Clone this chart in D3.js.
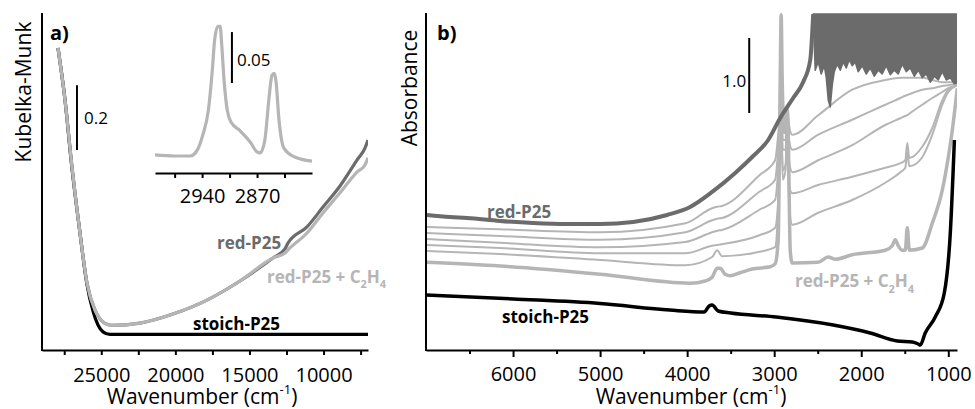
<!DOCTYPE html>
<html><head><meta charset="utf-8">
<script src="https://cdn.jsdelivr.net/npm/d3@7"></script>
<style>
body{margin:0;background:#fff}
svg{display:block}
text{font-family:"Open Sans",sans-serif}
</style>
</head><body>
<svg id="chart" width="975" height="409"></svg>
<script>
// ---------- Panel a (UV-vis, Kubelka-Munk) ----------
const aXTicks = [27500,25000,22500,20000,17500,15000,12500,10000,7500];
const aXLabels = [25000,20000,15000,10000];
const aStoichWn = [27920,27448,26996,26436,25984,25559,25221,24884,24411,22000,18000,14000,10000,7000];
const aStoichKM = [0.932,0.772,0.568,0.361,0.207,0.120,0.077,0.056,0.048,0.048,0.048,0.048,0.048,0.048];
const aRedWn = [27920,27448,26976,26436,25963,25423,25086,24749,24277,22387,20160,17866,15639,13412,12603,12400,11118,10038,8889,7744,7204,7000];
const aRedKM = [0.932,0.772,0.565,0.361,0.207,0.123,0.096,0.082,0.076,0.083,0.111,0.154,0.213,0.284,0.312,0.330,0.380,0.441,0.506,0.586,0.623,0.648];
const aRedC2H4KM = [0.932,0.772,0.565,0.361,0.207,0.123,0.096,0.082,0.076,0.083,0.111,0.154,0.213,0.284,0.299,0.309,0.361,0.423,0.485,0.549,0.571,0.593];
const aScaleBar = {wn: 26640, from: 0.617, size: 0.2, label: "0.2"};

// ---------- Inset (C-H stretch region) ----------
const insetTicks = [2975,2940,2905,2870,2835];
const insetLabels = [2940,2870];
const insetWn = [3000,2975,2955,2946,2939,2932,2927,2924,2920,2917,2915,2912,2908,2903,2892,2879,2870,2866,2860,2855,2851,2848,2846,2842,2836,2822,2800];
const insetKM = [0.002,0.001,0.001,0.007,0.022,0.046,0.085,0.115,0.128,0.128,0.110,0.075,0.046,0.034,0.026,0.015,0.005,0.004,0.017,0.056,0.080,0.082,0.075,0.036,0.009,0.000,-0.004];
const insetScaleBar = {wn: 2902, from: 0.0725, size: 0.05, label: "0.05"};

// ---------- Panel b (IR absorbance) ----------
const bXTicks = [6500,6000,5500,5000,4500,4000,3500,3000,2500,2000,1500,1000];
const bXLabels = [6000,5000,4000,3000,2000,1000];
const bRedWn = [6989,6724,6529,6149,5770,5379,5000,4621,4230,3966,3713,3448,3253,3069,2931,2782,2667,2586,2552];
const bRedAbs = [1.80,1.773,1.76,1.72,1.693,1.68,1.68,1.707,1.80,1.907,2.107,2.36,2.573,2.80,3.093,3.36,3.573,3.867,4.48];
// saturated (detector-limited) part of red-P25: lower edge of the noise band
const bSatWn = [2552,2529,2494,2460,2425,2402,2379,2356,2333,2310,2276,2241,2207,2172,2138,2104,2069,2035,1989,1943,1897,1851,1805,1759,1713,1667,1621,1575,1529,1483,1437,1391,1345,1299,1253,1207,1161,1115,1069,1023,977,931,897];
const bSatLow = [4.48,3.73,3.84,3.68,3.79,3.63,3.33,3.24,3.53,3.71,3.81,3.73,3.84,3.76,3.87,3.79,3.84,3.71,3.79,3.68,3.76,3.65,3.73,3.68,3.79,3.67,3.73,3.68,3.81,3.71,3.76,3.65,3.73,3.63,3.68,3.57,3.65,3.60,3.71,3.60,3.63,3.55,3.56];
const bSatTop = 4.48;
const bStoichWn = [7000,6000,5000,4200,3805,3747,3713,3644,3500,2977,2322,1897,1586,1414,1345,1322,1265,1150,1046,977,930];
const bStoichAbs = [0.733,0.68,0.62,0.533,0.507,0.587,0.60,0.52,0.493,0.44,0.333,0.227,0.12,0.107,0.08,0.067,0.227,0.44,0.76,1.56,2.8];
const bThinWn = [6989,6149,5000,4020,3713,3655,3600,3170,2989,2954,2920,2900,2870,2850,2830,2793,2494,2104,1724,1550,1494,1471,1448,1299,1184,1069,1000,897];
const bC2H4Step1 = [1.64,1.61,1.57,1.69,1.89,1.91,1.92,2.33,2.53,2.87,3.27,3.00,3.00,3.23,3.00,2.87,3.13,3.47,3.60,3.63,3.63,3.63,3.63,3.63,3.60,3.57,3.57,3.57];
const bC2H4Step2 = [1.56,1.52,1.47,1.57,1.73,1.75,1.76,2.11,2.27,2.67,3.20,2.80,2.80,3.20,2.80,2.67,2.87,3.07,3.27,3.36,3.39,3.40,3.41,3.47,3.49,3.52,3.53,3.55];
const bC2H4Step3 = [1.48,1.43,1.37,1.44,1.57,1.59,1.60,1.87,2.00,2.40,3.13,2.67,2.67,3.13,2.53,2.37,2.53,2.73,3.00,3.09,3.12,3.13,3.15,3.27,3.36,3.44,3.49,3.53];
const bC2H4Step4 = [1.40,1.36,1.29,1.29,1.39,1.40,1.41,1.53,1.63,2.00,3.00,2.40,2.47,2.93,2.20,2.09,2.20,2.31,2.43,2.49,2.53,2.76,2.56,2.71,2.96,3.33,3.47,3.53];
const bC2H4Step5 = [1.32,1.28,1.20,1.13,1.24,1.33,1.25,1.31,1.37,1.87,2.93,2.27,2.40,2.80,2.00,1.67,1.83,2.00,2.23,2.37,2.43,2.63,2.45,2.57,2.87,3.27,3.44,3.53];
const bFinalWn = [6989,6149,5000,3966,3793,3713,3655,3621,3563,3506,3391,3253,3046,2989,2954,2931,2920,2908,2885,2862,2850,2839,2816,2793,2494,2379,2299,2104,1724,1644,1609,1575,1529,1494,1471,1448,1299,1184,1069,1000,954,897];
const bFinalAbs = [1.17,1.12,1.01,0.89,0.92,0.97,1.09,1.09,1.01,0.99,1.03,1.08,1.11,1.15,1.47,3.60,4.47,3.60,2.90,3.00,3.20,2.90,1.33,1.16,1.17,1.24,1.21,1.27,1.33,1.39,1.47,1.39,1.33,1.33,1.63,1.33,1.36,1.69,2.13,2.57,2.93,3.49];
const bScaleBar = {wn: 3287, from: 3.16, size: 1.0, label: "1.0"};

const BLACK = "#000", DARK = "#6b6b6b", LIGHT = "#b5b5b5";
const TICK_FS = 20;

const svg = d3.select("#chart");
const zip = (xs, ys) => xs.map((x, i) => [x, ys[i]]);

// ================= Panel a =================
const ax = d3.scaleLinear().domain([29000, 7000]).range([42, 368]);
const ay = d3.scaleLinear().domain([0, 1.04]).range([350, 13]);
svg.append("clipPath").attr("id", "clipA").append("rect").attr("x", 42).attr("y", 13).attr("width", 326).attr("height", 337);
const gA = svg.append("g");
const lineA = d3.line().x(d => ax(d[0])).y(d => ay(d[1])).curve(d3.curveMonotoneX);
const curvesA = gA.append("g").attr("clip-path", "url(#clipA)");
curvesA.append("path").attr("d", lineA(zip(aStoichWn, aStoichKM))).attr("fill", "none").attr("stroke", BLACK).attr("stroke-width", 3.2);
curvesA.append("path").attr("d", lineA(zip(aRedWn, aRedKM))).attr("fill", "none").attr("stroke", DARK).attr("stroke-width", 3.2);
curvesA.append("path").attr("d", lineA(zip(aRedWn, aRedC2H4KM))).attr("fill", "none").attr("stroke", LIGHT).attr("stroke-width", 3.2);

const axA = gA.append("g").attr("transform", "translate(0,350)")
  .call(d3.axisBottom(ax).tickValues(aXTicks).tickSize(5).tickSizeOuter(0)
    .tickFormat(d => aXLabels.includes(d) ? String(d) : ""));
axA.select(".domain").attr("stroke-width", 2);
axA.selectAll(".tick line").attr("stroke-width", 2);
axA.selectAll(".tick text").attr("y", 32).attr("dy", 0).attr("font-size", TICK_FS).attr("font-family", "Open Sans").attr("fill", "#000");
gA.append("line").attr("x1", 42).attr("x2", 42).attr("y1", 13).attr("y2", 351).attr("stroke", "#000").attr("stroke-width", 2);

gA.append("line").attr("x1", ax(aScaleBar.wn)).attr("x2", ax(aScaleBar.wn))
  .attr("y1", ay(aScaleBar.from)).attr("y2", ay(aScaleBar.from + aScaleBar.size)).attr("stroke", "#000").attr("stroke-width", 2);
gA.append("text").attr("x", ax(aScaleBar.wn) + 7).attr("y", ay(aScaleBar.from + aScaleBar.size / 2) + 6)
  .attr("font-size", 17).text(aScaleBar.label);

gA.append("text").attr("x", 50).attr("y", 40).attr("font-size", 20).attr("font-weight", "bold").text("a)");
gA.append("text").attr("x", 217).attr("y", 249).attr("font-size", 17).attr("font-weight", "bold").attr("fill", DARK).text("red-P25");
const lblA2 = gA.append("text").attr("x", 267).attr("y", 283).attr("font-size", 17).attr("font-weight", "bold").attr("fill", LIGHT);
lblA2.append("tspan").text("red-P25 + C");
lblA2.append("tspan").attr("font-size", 11).attr("dy", 5).text("2");
lblA2.append("tspan").attr("dy", -5).text("H");
lblA2.append("tspan").attr("font-size", 11).attr("dy", 5).text("4");
gA.append("text").attr("x", 193).attr("y", 330).attr("font-size", 17).attr("font-weight", "bold").attr("fill", BLACK).text("stoich-P25");

function wnTitle(g, cx) {
  const t = g.append("text").attr("x", cx).attr("y", 404).attr("text-anchor", "middle").attr("font-size", 21);
  t.append("tspan").text("Wavenumber (cm");
  t.append("tspan").attr("font-size", 13).attr("dy", -10).text("-1");
  t.append("tspan").attr("dy", 10).text(")");
}
wnTitle(gA, 202);
gA.append("text").attr("transform", "translate(31,92) rotate(-90)").attr("text-anchor", "middle").attr("font-size", 21).text("Kubelka-Munk");

// ================= Inset =================
const ix = d3.scaleLinear().domain([3000, 2800]).range([155, 312]);
const iy = d3.scaleLinear().domain([0, 0.05]).range([157, 106]);
const gI = svg.append("g");
const lineI = d3.line().x(d => ix(d[0])).y(d => iy(d[1])).curve(d3.curveMonotoneX);
gI.append("path").attr("d", lineI(zip(insetWn, insetKM))).attr("fill", "none").attr("stroke", LIGHT).attr("stroke-width", 3.2);
const axI = gI.append("g").attr("transform", "translate(0,173)")
  .call(d3.axisBottom(ix).tickValues(insetTicks).tickSize(5).tickSizeOuter(0)
    .tickFormat(d => insetLabels.includes(d) ? String(d) : ""));
axI.select(".domain").attr("stroke-width", 2);
axI.selectAll(".tick line").attr("stroke-width", 2);
axI.selectAll(".tick text").attr("y", 30).attr("dy", 0).attr("font-size", TICK_FS).attr("font-family", "Open Sans").attr("fill", "#000");
gI.append("line").attr("x1", ix(insetScaleBar.wn)).attr("x2", ix(insetScaleBar.wn))
  .attr("y1", iy(insetScaleBar.from)).attr("y2", iy(insetScaleBar.from + insetScaleBar.size)).attr("stroke", "#000").attr("stroke-width", 2);
gI.append("text").attr("x", ix(insetScaleBar.wn) + 5).attr("y", iy(insetScaleBar.from + insetScaleBar.size / 2) + 8)
  .attr("font-size", 17).text(insetScaleBar.label);

// ================= Panel b =================
const bx = d3.scaleLinear().domain([7000, 900]).range([426, 957]);
const by = d3.scaleLinear().domain([0, 4.493]).range([350, 13]);
svg.append("clipPath").attr("id", "clipB").append("rect").attr("x", 426).attr("y", 13).attr("width", 531).attr("height", 337);
const gB = svg.append("g");
const lineB = d3.line().x(d => bx(d[0])).y(d => by(d[1])).curve(d3.curveMonotoneX);
const curvesB = gB.append("g").attr("clip-path", "url(#clipB)");
[bC2H4Step1, bC2H4Step2, bC2H4Step3, bC2H4Step4, bC2H4Step5].forEach(s => {
  curvesB.append("path").attr("d", lineB(zip(bThinWn, s))).attr("fill", "none").attr("stroke", LIGHT).attr("stroke-width", 2);
});
curvesB.append("path").attr("d", lineB(zip(bFinalWn, bFinalAbs))).attr("fill", "none").attr("stroke", LIGHT).attr("stroke-width", 3.5);
curvesB.append("path").attr("d", lineB(zip(bRedWn, bRedAbs))).attr("fill", "none").attr("stroke", DARK).attr("stroke-width", 4);
const areaB = d3.area().x(d => bx(d[0])).y0(d => by(d[1])).y1(() => by(bSatTop));
curvesB.append("path").attr("d", areaB(zip(bSatWn, bSatLow))).attr("fill", DARK).attr("stroke", DARK).attr("stroke-width", 1.5).attr("stroke-linejoin", "round");
curvesB.append("path").attr("d", lineB(zip(bStoichWn, bStoichAbs))).attr("fill", "none").attr("stroke", BLACK).attr("stroke-width", 3.5);

const axB = gB.append("g").attr("transform", "translate(0,350)")
  .call(d3.axisBottom(bx).tickValues(bXTicks).tickSizeOuter(0)
    .tickFormat(d => bXLabels.includes(d) ? String(d) : ""));
axB.select(".domain").attr("stroke-width", 2);
axB.selectAll(".tick line").attr("stroke-width", 2).attr("y2", d => bXLabels.includes(d) ? 7 : 4);
axB.selectAll(".tick text").attr("y", 31).attr("dy", 0).attr("font-size", TICK_FS).attr("font-family", "Open Sans").attr("fill", "#000");
gB.append("line").attr("x1", 426).attr("x2", 426).attr("y1", 13).attr("y2", 351).attr("stroke", "#000").attr("stroke-width", 2);

gB.append("line").attr("x1", bx(bScaleBar.wn)).attr("x2", bx(bScaleBar.wn))
  .attr("y1", by(bScaleBar.from)).attr("y2", by(bScaleBar.from + bScaleBar.size)).attr("stroke", "#000").attr("stroke-width", 2);
gB.append("text").attr("x", bx(bScaleBar.wn) - 3).attr("y", by(bScaleBar.from + bScaleBar.size / 2) + 12)
  .attr("text-anchor", "end").attr("font-size", 17).text(bScaleBar.label);

gB.append("text").attr("x", 437).attr("y", 40).attr("font-size", 20).attr("font-weight", "bold").text("b)");
gB.append("text").attr("x", 487).attr("y", 218).attr("font-size", 17).attr("font-weight", "bold").attr("fill", DARK).text("red-P25");
const lblB2 = gB.append("text").attr("x", 795).attr("y", 287).attr("font-size", 17).attr("font-weight", "bold").attr("fill", LIGHT);
lblB2.append("tspan").text("red-P25 + C");
lblB2.append("tspan").attr("font-size", 11).attr("dy", 6).text("2");
lblB2.append("tspan").attr("dy", -6).text("H");
lblB2.append("tspan").attr("font-size", 11).attr("dy", 6).text("4");
gB.append("text").attr("x", 502).attr("y", 323).attr("font-size", 17).attr("font-weight", "bold").attr("fill", BLACK).text("stoich-P25");

wnTitle(gB, 691);
gB.append("text").attr("transform", "translate(417,88) rotate(-90)").attr("text-anchor", "middle").attr("font-size", 21).text("Absorbance");
</script>
</body></html>
